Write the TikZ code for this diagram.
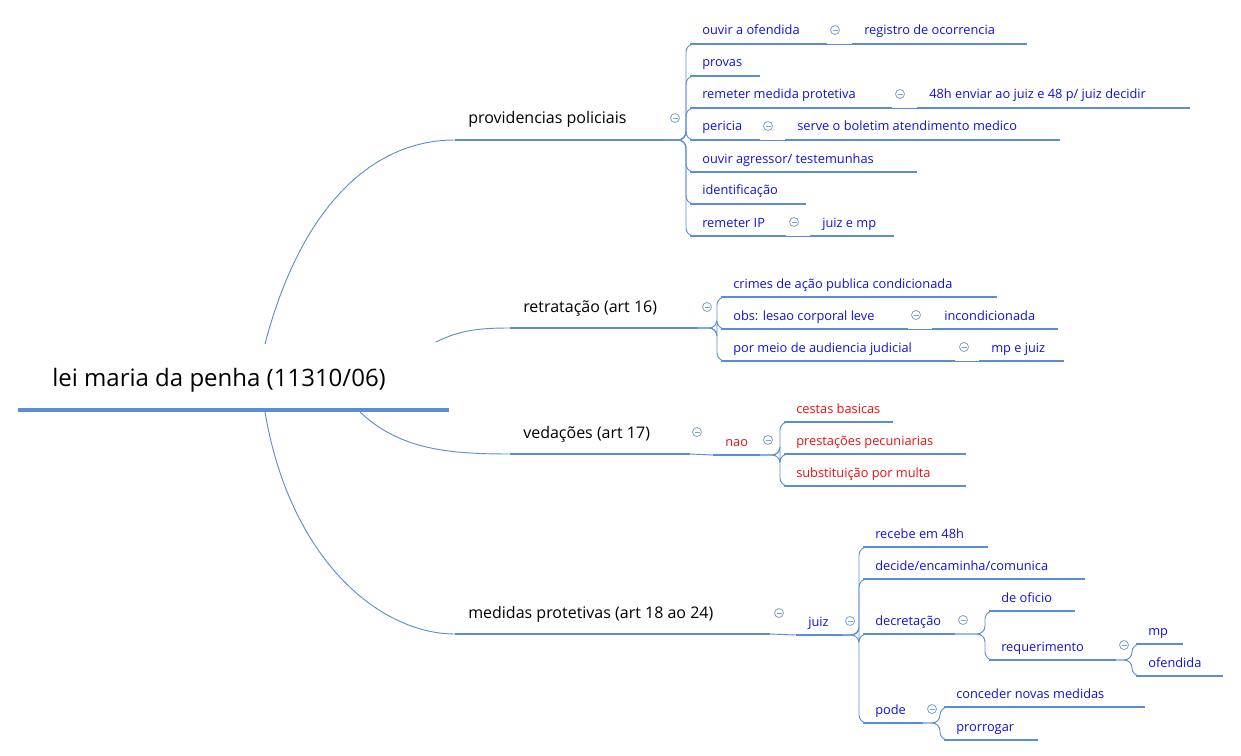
\documentclass[tikz,border=0pt]{standalone}
\usepackage{fontspec}
\setmainfont{Open Sans}
\definecolor{ln}{HTML}{5B8DD6}
\definecolor{tb}{HTML}{1010E0}
\definecolor{tr}{HTML}{E81010}
\definecolor{ic}{HTML}{7F9FCF}
\tikzset{
 uline/.style={draw=ln,line width=2.2pt},
 conn/.style={draw=ln,line width=0.7pt,rounded corners=6},
 lab/.style={inner sep=0pt,anchor=base west,text=tb,font=\fontsize{9.6pt}{11pt}\selectfont},
 lab1/.style={inner sep=0pt,anchor=base west,text=black,font=\fontsize{12pt}{14pt}\selectfont},
 icn/.style={draw=ic,line width=0.6pt}
}
\newcommand\mmn[6]{% style, name, x1, x2, y, text
 \coordinate (#2s) at (#3,#5); \coordinate (#2e) at (#4,#5);
 \draw[uline] (#2s)--(#2e);
 \node[#1] (#2t) at ([shift={(12,-9)}]#2s) {#6};}
\newcommand\mmb[6]{% level1
 \coordinate (#2s) at (#3,#5); \coordinate (#2e) at (#4,#5);
 \draw[uline] (#2s)--(#2e);
 \node[#1] (#2t) at ([shift={(13,-16)}]#2s) {#6};}
\newcommand\icon[2]{\draw[icn] (#1,#2) circle (4.5); \draw[icn] (#1-2.5,#2)--(#1+2.5,#2);}
\begin{document}
\begin{tikzpicture}[x=0.75pt,y=-0.75pt]
\useasboundingbox (0,0) rectangle (1241,756);
% root
\coordinate (roots) at (18,410); \coordinate (roote) at (449,410);
\draw[draw=ln,line width=3.6pt] (roots)--(roote);
\node[inner sep=0pt,anchor=base west,font=\fontsize{18pt}{20pt}\selectfont] (roott) at (52,386) {lei maria da penha (11310/06)};
\coordinate (r1) at (265,344); \coordinate (r2) at (436,342);
\coordinate (r3) at (360,412); \coordinate (r4) at (265,412);
% level 1
\mmb{lab1}{prov}{455}{665}{140}{providencias policiais}
\mmb{lab1}{ret}{510}{698}{328}{retratação (art 16)}
\mmb{lab1}{ved}{510}{690}{454}{vedações (art 17)}
\mmb{lab1}{med}{455}{770}{634}{medidas protetivas (art 18 ao 24)}
\draw[conn] (r1) .. controls (300,210) and (370,140) .. (provs);
\draw[conn] (r2) .. controls (460,330) and (480,328) .. (rets);
\draw[conn] (r3) .. controls (400,450) and (450,454) .. (veds);
\draw[conn] (r4) .. controls (290,560) and (380,634) .. (meds);
\icon{675}{118}\icon{707}{307}\icon{697}{432}\icon{779}{613}
% providencias
\mmn{lab}{p1}{690}{827}{44}{ouvir a ofendida}
\mmn{lab}{p1a}{852}{1027}{44}{registro de ocorrencia}
\mmn{lab}{p2}{690}{760}{76}{provas}
\mmn{lab}{p3}{690}{892}{108}{remeter medida protetiva}
\mmn{lab}{p3a}{917}{1190}{108}{48h enviar ao juiz e 48 p/ juiz decidir}
\mmn{lab}{p4}{690}{760}{140}{pericia}
\mmn{lab}{p4a}{785}{1060}{140}{serve o boletim atendimento medico}
\mmn{lab}{p5}{690}{917}{172}{ouvir agressor/ testemunhas}
\mmn{lab}{p6}{690}{806}{204}{identificação}
\mmn{lab}{p7}{690}{786}{236}{remeter IP}
\mmn{lab}{p7a}{810}{894}{236}{juiz e mp}
\foreach \c in {p1,p2,p3,p4,p5,p6,p7} \draw[conn] (prove) -- (686,140) |- (\c s);
\draw[conn] (p1e)--(p1as); \draw[conn] (p3e)--(p3as); \draw[conn] (p4e)--(p4as); \draw[conn] (p7e)--(p7as);
\icon{835}{30}\icon{900}{94}\icon{768}{126}\icon{794}{222}
% retratacao
\mmn{lab}{r1n}{721}{997}{297}{crimes de ação publica condicionada}
\mmn{lab}{r2n}{721}{908}{329}{obs: lesao corporal leve}
\mmn{lab}{r2a}{932}{1058}{329}{incondicionada}
\mmn{lab}{r3n}{721}{955}{361}{por meio de audiencia judicial}
\mmn{lab}{r3a}{979}{1064}{361}{mp e juiz}
\foreach \c in {r1n,r2n,r3n} \draw[conn] (rete) -- (717,328) |- (\c s);
\draw[conn] (r2ne)--(r2as); \draw[conn] (r3ne)--(r3as);
\icon{916}{315}\icon{964}{347}
% vedacoes
\mmn{lab,text=tr}{nao}{713}{760}{455}{nao}
\draw[conn] (vede)--(naos);
\mmn{lab,text=tr}{v1}{784}{893}{422}{cestas basicas}
\mmn{lab,text=tr}{v2}{784}{966}{454}{prestações pecuniarias}
\mmn{lab,text=tr}{v3}{784}{966}{486}{substituição por multa}
\foreach \c in {v1,v2,v3} \draw[conn] (naoe) -- (780,455) |- (\c s);
\icon{768}{440}
% medidas
\mmn{lab}{juiz}{796}{842}{635}{juiz}
\draw[conn] (mede)--(juizs);
\mmn{lab}{m1}{863}{988}{547}{recebe em 48h}
\mmn{lab}{m2}{863}{1085}{579}{decide/encaminha/comunica}
\mmn{lab}{m3}{863}{955}{634}{decretação}
\mmn{lab}{m4}{863}{923}{723}{pode}
\foreach \c in {m1,m2,m3,m4} \draw[conn] (juize) -- (859,635) |- (\c s);
\icon{850}{621}
\mmn{lab}{d1}{989}{1075}{611}{de oficio}
\mmn{lab}{d2}{989}{1116}{660}{requerimento}
\foreach \c in {d1,d2} \draw[conn] (m3e) -- (985,634) |- (\c s);
\icon{963}{620}
\mmn{lab}{q1}{1136}{1183}{644}{mp}
\mmn{lab}{q2}{1136}{1223}{676}{ofendida}
\foreach \c in {q1,q2} \draw[conn] (d2e) -- (1132,660) |- (\c s);
\icon{1124}{645}
\mmn{lab}{c1}{944}{1145}{707}{conceder novas medidas}
\mmn{lab}{c2}{944}{1038}{740}{prorrogar}
\foreach \c in {c1,c2} \draw[conn] (m4e) -- (940,723) |- (\c s);
\icon{932}{709}
\end{tikzpicture}
\end{document}
